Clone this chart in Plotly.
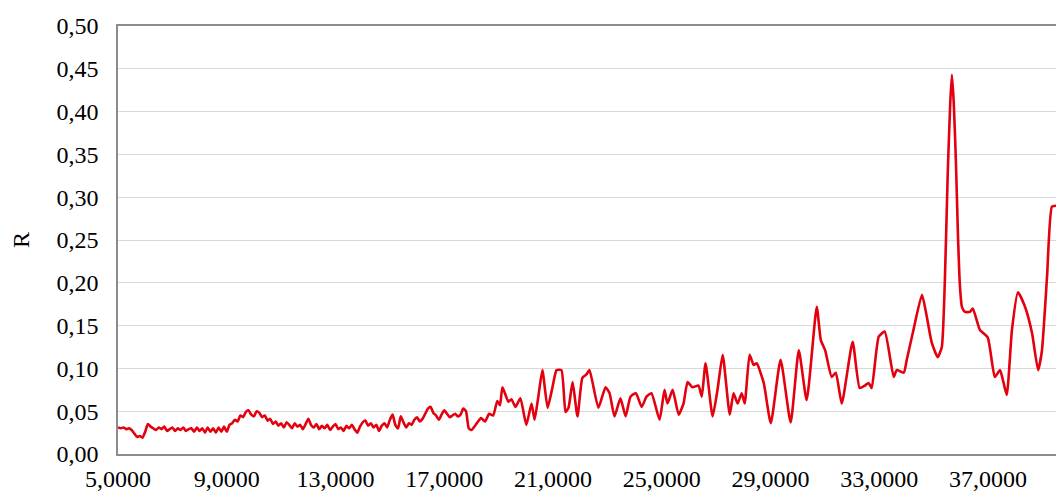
import plotly.graph_objects as go

# Fine sampled part: x from 5.0 in steps of 0.1 (5.0 ... 18.0)
x_fine_start = 5.0
x_fine_step = 0.1
r_fine = [
    0.031, 0.030, 0.031, 0.029, 0.030, 0.028, 0.024, 0.020, 0.021, 0.019,   # 5.0-5.9
    0.026, 0.035, 0.032, 0.030, 0.028, 0.031, 0.029, 0.032, 0.027, 0.029,   # 6.0-6.9
    0.031, 0.027, 0.030, 0.028, 0.031, 0.027, 0.029, 0.030, 0.026, 0.031,   # 7.0-7.9
    0.027, 0.030, 0.025, 0.031, 0.026, 0.030, 0.025, 0.031, 0.026, 0.032,   # 8.0-8.9
    0.026, 0.034, 0.036, 0.040, 0.038, 0.045, 0.043, 0.049, 0.051, 0.046,   # 9.0-9.9
    0.044, 0.050, 0.048, 0.043, 0.045, 0.039, 0.041, 0.035, 0.038, 0.033,   # 10.0-10.9
    0.036, 0.031, 0.037, 0.034, 0.030, 0.036, 0.032, 0.034, 0.029, 0.035,   # 11.0-11.9
    0.041, 0.034, 0.031, 0.035, 0.029, 0.033, 0.030, 0.034, 0.028, 0.032,   # 12.0-12.9
    0.035, 0.029, 0.031, 0.027, 0.033, 0.030, 0.034, 0.029, 0.025, 0.032,   # 13.0-13.9
    0.037, 0.039, 0.033, 0.036, 0.031, 0.034, 0.027, 0.033, 0.036, 0.031,   # 14.0-14.9
    0.040, 0.046, 0.034, 0.030, 0.044, 0.037, 0.031, 0.036, 0.034, 0.040,   # 15.0-15.9
    0.043, 0.038, 0.041, 0.047, 0.053, 0.055, 0.048, 0.045, 0.040, 0.046,   # 16.0-16.9
    0.051, 0.047, 0.043, 0.045, 0.047, 0.044, 0.046, 0.053, 0.050, 0.030,   # 17.0-17.9
    0.028,                                                                   # 18.0
]

x_feat = [
    18.2, 18.35, 18.5, 18.65, 18.8, 18.95, 19.05, 19.14, 19.36, 19.47,
    19.62, 19.80, 20.02, 20.21, 20.32, 20.46, 20.61, 20.80, 20.98, 21.13,
    21.31, 21.46, 21.57, 21.72, 21.90, 22.08, 22.23, 22.34, 22.67, 22.93,
    23.08, 23.26, 23.48, 23.67, 23.85, 24.05, 24.26, 24.44, 24.62, 24.92,
    25.10, 25.21, 25.40, 25.62, 25.80, 25.95, 26.13, 26.35, 26.47, 26.61,
    26.87, 27.05, 27.24, 27.50, 27.64, 27.79, 27.94, 28.05, 28.23, 28.38,
    28.49, 28.75, 29.01, 29.37, 29.74, 30.04, 30.33, 30.70, 30.85, 31.01,
    31.25, 31.40, 31.62, 32.02, 32.28, 32.47, 32.61, 32.72, 32.98, 33.20,
    33.53, 33.64, 33.90, 34.01, 34.23, 34.57, 34.75, 34.93, 35.15, 35.30,
    35.41, 35.52, 35.61, 35.67, 35.74, 35.82, 35.89, 35.96, 36.04, 36.15,
    36.33, 36.44, 36.70, 36.99, 37.25, 37.44, 37.55, 37.69, 37.88, 38.10,
    38.36, 38.62, 38.84, 38.98, 39.17, 39.35, 39.50,
]
r_feat = [
    0.036, 0.042, 0.038, 0.047, 0.045, 0.062, 0.057, 0.078, 0.061, 0.064,
    0.055, 0.065, 0.034, 0.059, 0.040, 0.067, 0.098, 0.054, 0.078, 0.098,
    0.098, 0.049, 0.054, 0.084, 0.044, 0.089, 0.093, 0.098, 0.054, 0.078,
    0.071, 0.044, 0.065, 0.044, 0.067, 0.071, 0.055, 0.067, 0.071, 0.040,
    0.075, 0.059, 0.075, 0.046, 0.059, 0.084, 0.078, 0.080, 0.067, 0.106,
    0.044, 0.075, 0.116, 0.046, 0.071, 0.059, 0.071, 0.059, 0.116, 0.104,
    0.106, 0.083, 0.036, 0.110, 0.037, 0.121, 0.063, 0.172, 0.133, 0.121,
    0.090, 0.095, 0.059, 0.131, 0.077, 0.080, 0.083, 0.077, 0.137, 0.143,
    0.090, 0.098, 0.095, 0.110, 0.141, 0.186, 0.160, 0.130, 0.113, 0.125,
    0.200, 0.330, 0.410, 0.443, 0.410, 0.340, 0.260, 0.200, 0.172, 0.166,
    0.166, 0.170, 0.145, 0.136, 0.090, 0.098, 0.086, 0.069, 0.145, 0.189,
    0.172, 0.141, 0.098, 0.120, 0.207, 0.289, 0.290,
]

x_ticks = [5, 9, 13, 17, 21, 25, 29, 33, 37]
y_ticks = [0.00, 0.05, 0.10, 0.15, 0.20, 0.25, 0.30, 0.35, 0.40, 0.45, 0.50]

x_all = [round(x_fine_start + i * x_fine_step, 2) for i in range(len(r_fine))] + x_feat
r_all = r_fine + r_feat

fig = go.Figure()
fig.add_trace(go.Scatter(
    x=x_all, y=r_all, mode="lines",
    line=dict(color="#e3000f", width=2.6, shape="spline", smoothing=0.5),
    showlegend=False, hoverinfo="skip",
))

font_family = "Liberation Serif, Times New Roman, serif"
fig.update_layout(
    width=1056, height=493,
    margin=dict(l=118, r=0, t=26, b=39),
    paper_bgcolor="white", plot_bgcolor="white",
    separators=", ",
    font=dict(family=font_family, size=24, color="#000000"),
)
fig.update_xaxes(
    range=[5, 39.5], tickvals=x_ticks, tickformat=".4f",
    showgrid=False, zeroline=False,
    showline=True, linecolor="#8c8c8c", linewidth=1.5, mirror=True,
    ticks="", ticklabelstandoff=2, automargin=False,
    tickfont=dict(family=font_family, size=24, color="#000000"),
)
fig.update_yaxes(
    range=[0, 0.5], tickvals=y_ticks, tickformat=".2f",
    showgrid=True, gridcolor="#d9d9d9", gridwidth=1.2,
    zeroline=False,
    showline=True, linecolor="#8c8c8c", linewidth=1.5, mirror=False,
    ticks="", ticklabelstandoff=13,
    tickfont=dict(family=font_family, size=24, color="#000000"),
    title=dict(text="R", standoff=20, font=dict(family=font_family, size=24, color="#000000")),
    automargin=False,
)

fig.write_html(
    "out.html",
    config={"displayModeBar": False},
    post_script="document.body.style.margin='0';document.body.style.overflow='hidden';",
)
